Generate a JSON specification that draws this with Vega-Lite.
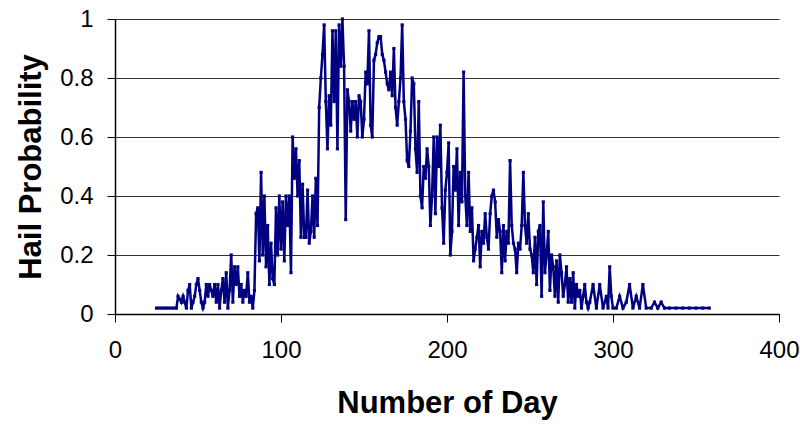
{
  "$schema": "https://vega.github.io/schema/vega-lite/v6.json",
  "autosize": "none",
  "width": 664,
  "height": 295,
  "padding": {"left": 115, "top": 19, "right": 21, "bottom": 113},
  "background": "white",
  "config": {"view": {"stroke": null}, "font": "Liberation Sans"},
  "data": {"values": [
    {"d":25,"p":0.02},{"d":27,"p":0.02},{"d":29,"p":0.02},{"d":31,"p":0.02},{"d":33,"p":0.02},{"d":35,"p":0.02},{"d":37,"p":0.02},
    {"d":38,"p":0.06},{"d":39,"p":0.05},{"d":40,"p":0.04},{"d":41,"p":0.06},{"d":42,"p":0.04},{"d":43,"p":0.02},{"d":44,"p":0.08},{"d":45,"p":0.1},
    {"d":46,"p":0.02},{"d":47,"p":0.04},{"d":48,"p":0.06},{"d":49,"p":0.1},{"d":50,"p":0.12},{"d":51,"p":0.08},{"d":52,"p":0.04},{"d":53,"p":0.02},
    {"d":54,"p":0.04},{"d":55,"p":0.1},{"d":56,"p":0.06},{"d":57,"p":0.1},{"d":58,"p":0.08},{"d":59,"p":0.06},{"d":60,"p":0.1},{"d":61,"p":0.04},
    {"d":62,"p":0.1},{"d":63,"p":0.02},{"d":64,"p":0.08},{"d":65,"p":0.12},{"d":66,"p":0.04},{"d":67,"p":0.14},{"d":68,"p":0.02},{"d":69,"p":0.08},
    {"d":70,"p":0.2},{"d":71,"p":0.04},{"d":72,"p":0.16},{"d":73,"p":0.1},{"d":74,"p":0.16},{"d":75,"p":0.06},{"d":76,"p":0.1},{"d":77,"p":0.04},
    {"d":78,"p":0.08},{"d":79,"p":0.06},{"d":80,"p":0.14},{"d":81,"p":0.04},{"d":82,"p":0.06},{"d":83,"p":0.02},{"d":84,"p":0.08},{"d":85,"p":0.34},
    {"d":86,"p":0.36},{"d":87,"p":0.18},{"d":88,"p":0.48},{"d":89,"p":0.2},{"d":90,"p":0.4},{"d":91,"p":0.16},{"d":92,"p":0.3},{"d":93,"p":0.1},
    {"d":94,"p":0.24},{"d":95,"p":0.12},{"d":96,"p":0.1},{"d":97,"p":0.36},{"d":98,"p":0.2},{"d":99,"p":0.4},{"d":100,"p":0.22},{"d":101,"p":0.38},
    {"d":102,"p":0.18},{"d":103,"p":0.4},{"d":104,"p":0.3},{"d":105,"p":0.4},{"d":106,"p":0.14},{"d":107,"p":0.6},{"d":108,"p":0.46},{"d":109,"p":0.56},
    {"d":110,"p":0.4},{"d":111,"p":0.52},{"d":112,"p":0.26},{"d":113,"p":0.44},{"d":114,"p":0.26},{"d":115,"p":0.26},{"d":116,"p":0.42},{"d":117,"p":0.24},
    {"d":118,"p":0.28},{"d":119,"p":0.4},{"d":120,"p":0.26},{"d":121,"p":0.46},{"d":122,"p":0.3},{"d":123,"p":0.7},{"d":124,"p":0.8},{"d":125,"p":0.88},
    {"d":126,"p":0.98},{"d":127,"p":0.72},{"d":128,"p":0.56},{"d":129,"p":0.74},{"d":130,"p":0.64},{"d":131,"p":0.96},{"d":132,"p":0.72},{"d":133,"p":0.96},
    {"d":134,"p":0.56},{"d":135,"p":0.98},{"d":136,"p":0.84},{"d":137,"p":1.0},{"d":138,"p":0.84},{"d":139,"p":0.32},{"d":140,"p":0.76},{"d":141,"p":0.72},
    {"d":142,"p":0.62},{"d":143,"p":0.72},{"d":144,"p":0.66},{"d":145,"p":0.72},{"d":146,"p":0.6},{"d":147,"p":0.74},{"d":148,"p":0.72},{"d":149,"p":0.6},
    {"d":150,"p":0.66},{"d":151,"p":0.82},{"d":152,"p":0.78},{"d":153,"p":0.96},{"d":154,"p":0.64},{"d":155,"p":0.6},{"d":156,"p":0.86},{"d":157,"p":0.88},
    {"d":158,"p":0.92},{"d":159,"p":0.94},{"d":160,"p":0.94},{"d":161,"p":0.88},{"d":162,"p":0.86},{"d":163,"p":0.82},{"d":164,"p":0.78},{"d":165,"p":0.76},
    {"d":166,"p":0.82},{"d":167,"p":0.74},{"d":168,"p":0.9},{"d":169,"p":0.7},{"d":170,"p":0.64},{"d":171,"p":0.72},{"d":172,"p":0.8},{"d":173,"p":0.98},
    {"d":174,"p":0.72},{"d":175,"p":0.66},{"d":176,"p":0.52},{"d":177,"p":0.5},{"d":178,"p":0.62},{"d":179,"p":0.8},{"d":180,"p":0.78},{"d":181,"p":0.56},
    {"d":182,"p":0.48},{"d":183,"p":0.72},{"d":184,"p":0.4},{"d":185,"p":0.36},{"d":186,"p":0.5},{"d":187,"p":0.46},{"d":188,"p":0.56},{"d":189,"p":0.5},
    {"d":190,"p":0.3},{"d":191,"p":0.4},{"d":192,"p":0.6},{"d":193,"p":0.34},{"d":194,"p":0.6},{"d":195,"p":0.5},{"d":196,"p":0.64},{"d":197,"p":0.36},
    {"d":198,"p":0.24},{"d":199,"p":0.42},{"d":200,"p":0.48},{"d":201,"p":0.58},{"d":202,"p":0.2},{"d":203,"p":0.28},{"d":204,"p":0.5},{"d":205,"p":0.42},
    {"d":206,"p":0.56},{"d":207,"p":0.3},{"d":208,"p":0.48},{"d":209,"p":0.38},{"d":210,"p":0.82},{"d":211,"p":0.4},{"d":212,"p":0.3},{"d":213,"p":0.48},
    {"d":214,"p":0.28},{"d":215,"p":0.36},{"d":216,"p":0.18},{"d":217,"p":0.22},{"d":218,"p":0.26},{"d":219,"p":0.3},{"d":220,"p":0.16},{"d":221,"p":0.28},
    {"d":222,"p":0.24},{"d":223,"p":0.34},{"d":224,"p":0.26},{"d":225,"p":0.22},{"d":226,"p":0.34},{"d":227,"p":0.4},{"d":228,"p":0.42},{"d":229,"p":0.38},
    {"d":230,"p":0.26},{"d":231,"p":0.32},{"d":232,"p":0.28},{"d":233,"p":0.14},{"d":234,"p":0.3},{"d":235,"p":0.18},{"d":236,"p":0.28},{"d":237,"p":0.24},
    {"d":238,"p":0.52},{"d":239,"p":0.3},{"d":240,"p":0.24},{"d":241,"p":0.22},{"d":242,"p":0.14},{"d":243,"p":0.24},{"d":244,"p":0.22},{"d":245,"p":0.3},
    {"d":246,"p":0.48},{"d":247,"p":0.3},{"d":248,"p":0.24},{"d":249,"p":0.34},{"d":250,"p":0.22},{"d":251,"p":0.2},{"d":252,"p":0.14},{"d":253,"p":0.26},
    {"d":254,"p":0.1},{"d":255,"p":0.28},{"d":256,"p":0.3},{"d":257,"p":0.06},{"d":258,"p":0.38},{"d":259,"p":0.14},{"d":260,"p":0.2},{"d":261,"p":0.28},
    {"d":262,"p":0.08},{"d":263,"p":0.2},{"d":264,"p":0.16},{"d":265,"p":0.06},{"d":266,"p":0.18},{"d":267,"p":0.04},{"d":268,"p":0.2},{"d":269,"p":0.14},
    {"d":270,"p":0.06},{"d":271,"p":0.1},{"d":272,"p":0.16},{"d":273,"p":0.04},{"d":274,"p":0.12},{"d":275,"p":0.04},{"d":276,"p":0.14},{"d":277,"p":0.02},
    {"d":278,"p":0.1},{"d":279,"p":0.06},{"d":280,"p":0.08},{"d":281,"p":0.02},{"d":282,"p":0.06},{"d":283,"p":0.1},{"d":284,"p":0.04},{"d":285,"p":0.02},
    {"d":286,"p":0.04},{"d":288,"p":0.1},{"d":290,"p":0.02},{"d":292,"p":0.1},{"d":294,"p":0.02},{"d":296,"p":0.06},{"d":297,"p":0.02},{"d":298,"p":0.16},
    {"d":299,"p":0.06},{"d":300,"p":0.02},{"d":302,"p":0.02},{"d":304,"p":0.06},{"d":306,"p":0.02},{"d":308,"p":0.04},{"d":310,"p":0.1},{"d":312,"p":0.02},
    {"d":314,"p":0.06},{"d":316,"p":0.02},{"d":318,"p":0.1},{"d":320,"p":0.02},{"d":323,"p":0.02},{"d":325,"p":0.04},{"d":327,"p":0.02},{"d":329,"p":0.04},
    {"d":331,"p":0.02},{"d":334,"p":0.02},{"d":338,"p":0.02},{"d":342,"p":0.02},{"d":346,"p":0.02},{"d":350,"p":0.02},{"d":354,"p":0.02},{"d":358,"p":0.02}
  ]},
  "mark": {"type": "line", "color": "#000080", "strokeWidth": 2.5,
    "point": {"filled": true, "shape": "square", "size": 10, "color": "#000080"}},
  "encoding": {
    "x": {"field": "d", "type": "quantitative",
      "scale": {"domain": [0, 400], "nice": false, "zero": false},
      "axis": {"values": [0, 100, 200, 300, 400], "grid": false, "title": "Number of Day",
        "domainColor": "#000", "domainWidth": 1.5, "tickColor": "#000", "tickSize": 8,
        "labelFontSize": 24, "labelColor": "#000", "labelPadding": 16, "labelFlush": false,
        "titleFontSize": 31, "titleFontWeight": "bold", "titleColor": "#000", "titlePadding": 26}},
    "y": {"field": "p", "type": "quantitative",
      "scale": {"domain": [0, 1], "nice": false},
      "axis": {"values": [0, 0.2, 0.4, 0.6, 0.8, 1], "format": "~g", "grid": true,
        "gridColor": "#000", "gridWidth": 1, "gridOpacity": 0.8, "title": "Hail Probability",
        "domainColor": "#000", "domainWidth": 1.5, "tickColor": "#000", "tickSize": 8,
        "labelFontSize": 24, "labelColor": "#000", "labelPadding": 14,
        "titleFontSize": 31, "titleFontWeight": "bold", "titleColor": "#000", "titlePadding": 12}}
  }
}
